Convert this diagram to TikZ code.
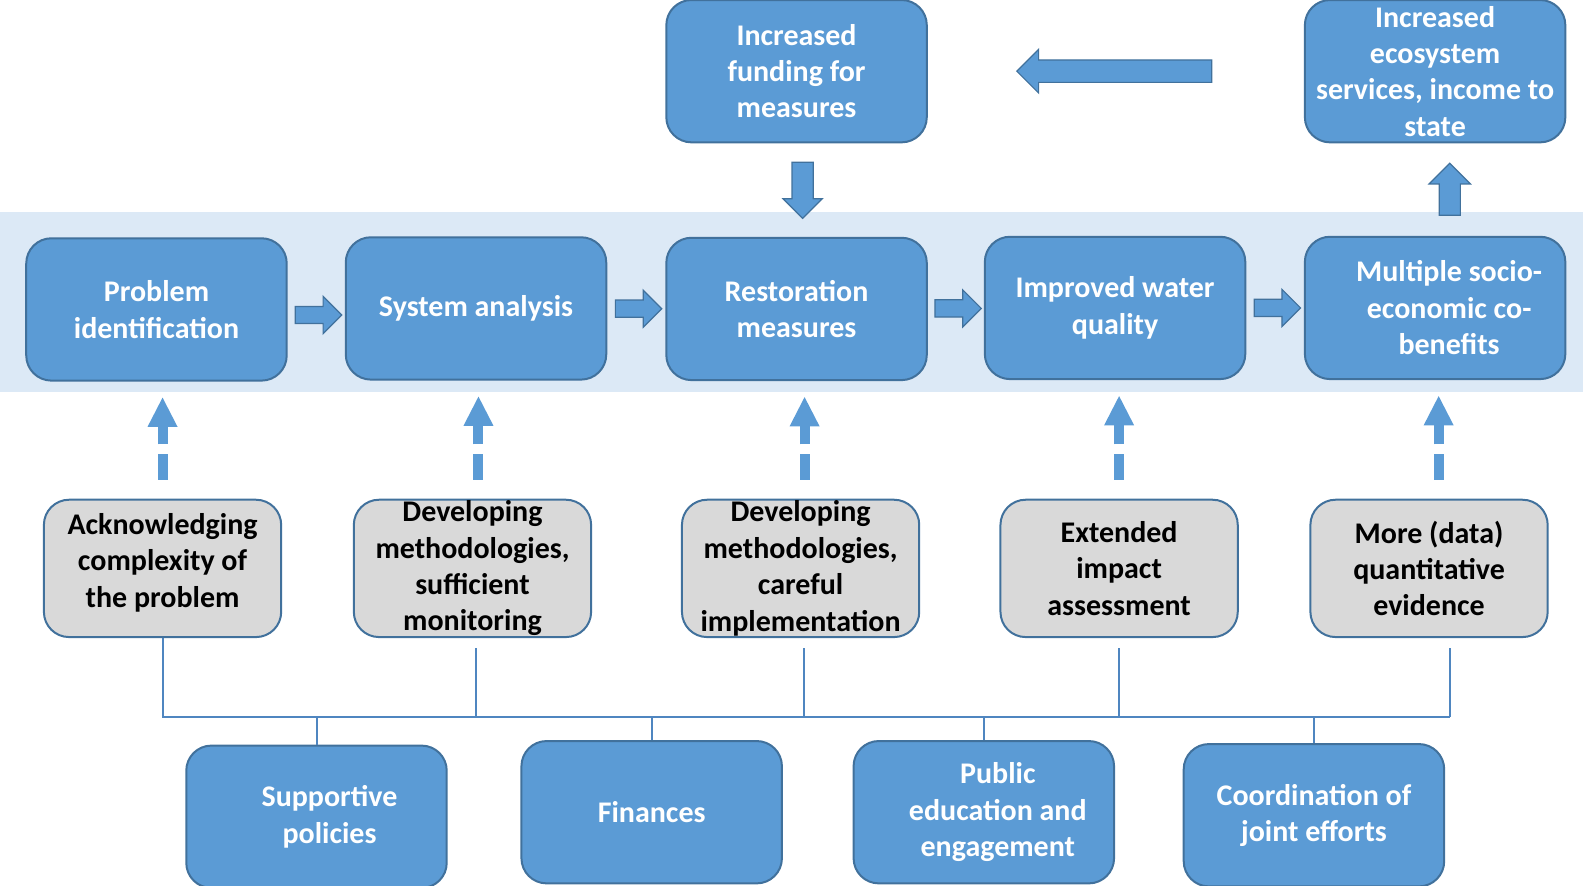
\documentclass[tikz,border=0pt]{standalone}
\usepackage{fontspec}
\setmainfont{Carlito}
\usetikzlibrary{arrows.meta,shapes.arrows,calc}
\definecolor{boxblue}{HTML}{5B9BD5}
\definecolor{edgeblue}{HTML}{41719C}
\definecolor{boxgray}{HTML}{D9D9D9}
\definecolor{bandblue}{HTML}{DCE9F6}
\definecolor{treeblue}{HTML}{4F86C0}

\begin{document}
\begin{tikzpicture}[x=0.505pt, y=-0.505pt,
    bluebox/.style={draw=edgeblue, line width=1pt, fill=boxblue, rounded corners=12.6pt,
      minimum width=130.3pt, minimum height=71.2pt, inner ysep=0pt, align=center,
      text=white, font=\fontsize{15}{18.2}\selectfont\bfseries},
    graybox/.style={draw=edgeblue, line width=1pt, fill=boxgray, rounded corners=12.6pt,
      minimum width=118.7pt, minimum height=68.7pt, inner ysep=0pt, align=center,
      text=black, font=\fontsize{15}{18.2}\selectfont\bfseries},
    blockarrow/.style={single arrow, draw=edgeblue, line width=0.6pt, fill=boxblue,
      inner xsep=0pt, inner ysep=4pt, minimum height=23.2pt, single arrow head extend=5pt},
    dasharrow/.style={boxblue, line width=5pt, dash pattern=on 12.6pt off 5pt on 40pt off 0pt,
      -{Triangle[width=15pt,length=14.6pt,line width=0pt]}},
    treeline/.style={treeblue, line width=1pt}]
%      \draw [help lines] (0,0) grid [step=100] (1568,877);

      \useasboundingbox (0,0) rectangle (1568,877.2);
      \fill [bandblue] (0,210) rectangle (1568,388);

      % main chain
      \node [bluebox] (p1) at (155,306.5) {Problem\\identification};
      \node [bluebox] (p2) at (471.5,305.5) {System analysis};
      \node [bluebox] (p3) at (789,306) {Restoration\\measures};
      \node [bluebox] (p4) at (1104.5,305) {Improved water\\quality};
      \node [bluebox] (p5) at (1421.5,305) {\hspace*{14pt}Multiple socio-\\\hspace*{14pt}economic co-\\\hspace*{14pt}benefits};

      \node [bluebox] (fund) at (789,70.5) {Increased\\funding for\\measures};
      \node [bluebox] (eco) at (1421.5,70.5) {Increased\\ecosystem\\services, income to\\state};

      \node [blockarrow] (a12) at ($(p1.east)!0.5!(p2.west)+(-2,6)$) {};
      \node [blockarrow] (a23) at ($(p2.east)!0.5!(p3.west)+(-2,0)$) {};
      \node [blockarrow] (a34) at ($(p3.east)!0.5!(p4.west)+(-2,0)$) {};
      \node [blockarrow] (a45) at ($(p4.east)!0.5!(p5.west)+(-2,0)$) {};

      \node [blockarrow, rotate=270, inner ysep=5pt, minimum height=28pt, single arrow head extend=4.5pt]
        (adown) at ($(fund.south)!0.5!(p3.north)+(6,-5)$) {};
      \node [blockarrow, rotate=90, inner ysep=5pt, minimum height=26pt]
        (aup) at ($(eco.south)!0.5!(p5.north)+(14.5,5)$) {};
      \node [blockarrow, rotate=180, inner ysep=5.3pt, minimum height=97.5pt, single arrow head extend=5.3pt]
        (aleft) at ($(fund.east)!0.5!(eco.west)+(4,0)$) {};

      % needs
      \node [graybox, text depth=8pt] (g1) at (161,563) {Acknowledging\\complexity of\\the problem};
      \node [graybox] (g2) at (468,563) {Developing\\methodologies,\\sufficient\\monitoring};
      \node [graybox] (g3) at (793,563) {Developing\\methodologies,\\careful\\implementation};
      \node [graybox] (g4) at (1108.5,563) {Extended\\impact\\assessment};
      \node [graybox] (g5) at (1415.5,563) {More (data)\\quantitative\\evidence};

      \foreach \g/\p/\s in {g1/p1/0pt, g2/p2/3pt, g3/p3/2pt, g4/p4/0pt, g5/p5/4.8pt}
        \draw [dasharrow] ([xshift=\s, yshift=9.6pt]\g.north) -- ([xshift=\s, yshift=-8pt]\g.north |- \p.south);

      % enablers
      \node [bluebox] (b1) at (313.5,809) {\hspace*{13pt}Supportive\\\hspace*{13pt}policies};
      \node [bluebox] (b2) at (645.5,804.5) {Finances};
      \node [bluebox] (b3) at (974.5,804.5) {\hspace*{14pt}Public\\\hspace*{14pt}education and\\\hspace*{14pt}engagement};
      \node [bluebox] (b4) at (1301.5,807.5) {Coordination of\\joint efforts};

      \coordinate (bus) at (0,710);
      \draw [treeline] (g1.south) -- (g1.south |- bus) -- ([xshift=10.4pt]g5.south |- bus);
      \foreach \g/\s in {g2/2pt, g3/1.5pt, g4/0pt, g5/10.4pt}
        \draw [treeline] ([xshift=\s, yshift=-5pt]\g.south) -- ([xshift=\s]\g.south |- bus);
      \foreach \b in {b1,b2,b3,b4}
        \draw [treeline] (\b.north) -- (\b.north |- bus);

    \end{tikzpicture}
\end{document}
